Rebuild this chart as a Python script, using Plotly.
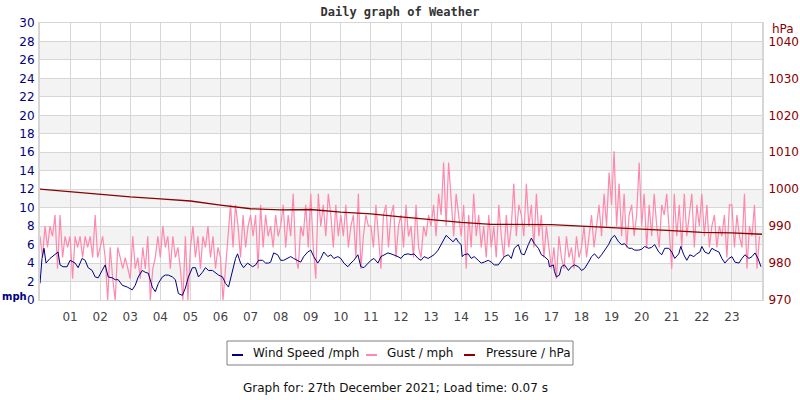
import plotly.graph_objects as go

# wind speed samples: minute of day -> mph
wind_min = [0, 4, 8, 12, 20, 30, 36, 40, 46, 54,
            60, 70, 76, 84, 90, 96, 104, 110, 116, 124,
            130, 136, 144, 150, 156, 164, 174, 184, 190, 196,
            204, 210, 216, 224, 230, 236, 244, 250, 256, 264,
            270, 276, 284, 290, 296, 304, 310, 316, 324, 330,
            336, 344, 350, 356, 364, 370, 376, 384, 390, 394,
            400, 406, 414, 424, 430, 436, 444, 450, 456, 460,
            466, 474, 480, 486, 494, 500, 506, 514, 520, 526,
            534, 540, 546, 554, 560, 566, 574, 580, 586, 594,
            600, 606, 614, 620, 626, 634, 640, 646, 654, 660,
            666, 674, 680, 686, 694, 700, 706, 714, 720, 726,
            734, 740, 746, 754, 760, 766, 774, 780, 786, 794,
            800, 806, 810, 816, 824, 830, 834, 840, 842, 846,
            854, 860, 866, 874, 880, 886, 894, 900, 906, 914,
            920, 926, 934, 940, 946, 954, 960, 966, 974, 980,
            986, 994, 1000, 1006, 1014, 1016, 1024, 1026, 1030, 1036,
            1040, 1046, 1054, 1060, 1066, 1074, 1080, 1086, 1094, 1100,
            1106, 1114, 1120, 1126, 1134, 1140, 1146, 1154, 1160, 1166,
            1174, 1180, 1186, 1194, 1200, 1206, 1214, 1220, 1226, 1234,
            1240, 1246, 1254, 1260, 1266, 1274, 1278, 1284, 1290, 1296,
            1304, 1310, 1316, 1320, 1326, 1334, 1340, 1346, 1354, 1360,
            1366, 1374, 1380, 1386, 1394, 1400, 1406, 1414, 1420, 1426,
            1432, 1438]
wind_mph = [1.8, 4.5, 5.6, 4.0, 4.5, 4.9, 5.2, 3.8, 3.6, 3.6,
            4.3, 4.0, 3.5, 4.5, 4.3, 3.5, 3.2, 2.5, 2.4, 3.2,
            3.8, 2.5, 2.4, 2.2, 2.2, 1.6, 1.4, 1.1, 1.6, 2.5,
            3.2, 3.0, 2.9, 1.4, 0.9, 1.8, 2.5, 2.7, 2.7, 2.5,
            2.2, 0.7, 0.5, 1.3, 2.5, 3.5, 3.5, 2.5, 3.0, 3.5,
            3.2, 3.2, 2.9, 2.7, 2.5, 1.8, 1.4, 3.2, 4.5, 5.0,
            4.0, 3.5, 4.0, 3.6, 3.8, 4.3, 4.3, 4.0, 4.0, 4.1,
            5.1, 4.9, 4.3, 4.3, 4.5, 4.7, 4.5, 4.3, 4.1, 4.7,
            5.2, 5.4, 4.7, 4.0, 4.5, 5.2, 4.7, 4.9, 4.5, 4.7,
            4.5, 4.0, 3.6, 4.0, 4.3, 4.9, 3.6, 3.5, 4.0, 4.3,
            4.5, 4.0, 4.7, 4.9, 5.1, 5.0, 4.9, 4.7, 4.5, 4.9,
            5.0, 4.9, 5.0, 4.5, 4.3, 4.7, 4.5, 4.7, 4.9, 5.4,
            6.0, 6.5, 7.0, 6.7, 6.3, 6.7, 6.3, 6.0, 4.7, 4.9,
            5.0, 4.5, 4.7, 4.3, 4.0, 4.1, 4.3, 4.1, 3.8, 3.8,
            4.3, 4.7, 4.9, 4.5, 5.6, 6.0, 5.0, 4.9, 6.0, 6.7,
            6.1, 5.6, 4.9, 4.7, 4.3, 3.6, 3.8, 3.1, 2.5, 2.7,
            3.6, 3.8, 3.2, 3.6, 3.8, 3.6, 3.2, 3.4, 4.1, 4.7,
            5.0, 4.5, 4.9, 5.4, 6.0, 6.7, 7.0, 6.3, 6.0, 6.1,
            5.6, 5.6, 5.4, 5.4, 5.5, 5.8, 5.6, 5.7, 6.0, 5.2,
            4.9, 5.6, 5.6, 5.2, 4.5, 5.0, 5.8, 4.9, 4.3, 4.9,
            4.7, 5.0, 5.2, 5.8, 5.2, 5.0, 5.6, 5.4, 5.2, 4.5,
            4.0, 4.5, 4.7, 4.1, 4.0, 4.5, 4.9, 4.5, 4.7, 5.1,
            4.5, 3.6]

# gusts, one value every 5 minutes, one row per hour
gust_mph = [
    6.9, 4.6, 8.0, 5.7, 8.0, 6.9, 9.2, 3.4, 9.2, 4.6, 6.9, 5.7,
    6.9, 2.3, 6.9, 5.7, 6.9, 4.6, 6.9, 5.7, 6.9, 4.6, 9.2, 4.6,
    5.7, 6.9, 4.6, 0.0, 5.7, 2.3, 0.0, 5.7, 4.6, 3.4, 4.6, 3.4,
    2.3, 6.9, 3.4, 4.6, 2.3, 5.7, 3.4, 6.9, 0.0, 3.4, 4.6, 6.9,
    4.6, 8.0, 5.7, 6.9, 3.4, 6.9, 4.6, 5.7, 3.4, 0.0, 6.9, 0.0,
    5.7, 8.0, 4.6, 6.9, 3.4, 6.9, 5.7, 8.0, 4.6, 6.9, 3.4, 5.7,
    4.6, 0.0, 3.4, 6.9, 10.3, 5.7, 10.3, 8.0, 4.6, 9.2, 5.7, 8.0,
    9.2, 6.9, 9.2, 3.4, 10.3, 5.7, 9.2, 6.9, 8.0, 5.7, 9.2, 6.9,
    8.0, 10.3, 5.7, 9.2, 6.9, 11.5, 4.6, 3.4, 8.0, 6.9, 10.3, 5.7,
    11.5, 5.7, 2.3, 11.5, 8.0, 10.3, 6.9, 11.5, 9.2, 5.7, 10.3, 6.9,
    9.2, 6.9, 10.3, 5.7, 8.0, 9.2, 4.6, 11.5, 3.4, 6.9, 9.2, 8.0,
    8.0, 5.7, 10.3, 6.9, 3.4, 9.2, 10.3, 5.7, 9.2, 10.3, 4.6, 8.0,
    9.2, 5.7, 10.3, 6.9, 8.0, 4.6, 10.3, 5.7, 4.6, 8.0, 6.9, 9.2,
    8.0, 10.3, 6.9, 11.5, 9.2, 14.9, 8.0, 14.9, 10.3, 6.9, 11.5, 9.2,
    6.9, 10.3, 3.4, 9.2, 5.7, 11.5, 6.9, 9.2, 5.7, 8.0, 4.6, 9.2,
    5.7, 8.0, 4.6, 10.3, 6.9, 4.6, 9.2, 5.7, 8.0, 12.6, 6.9, 10.3,
    9.2, 6.9, 12.6, 8.0, 10.3, 5.7, 11.5, 6.9, 9.2, 4.6, 8.0, 5.7,
    3.4, 5.7, 2.3, 6.9, 4.6, 3.4, 6.9, 4.6, 5.7, 3.4, 6.9, 4.6,
    5.7, 8.0, 4.6, 6.9, 9.2, 5.7, 8.0, 10.3, 6.9, 11.5, 8.0, 13.8,
    10.3, 16.1, 8.0, 12.6, 6.9, 11.5, 5.7, 9.2, 10.3, 6.9, 9.2, 14.9,
    8.0, 11.5, 5.7, 10.3, 6.9, 11.5, 8.0, 5.7, 10.3, 9.2, 11.5, 6.9,
    3.4, 11.5, 6.9, 10.3, 5.7, 11.5, 6.9, 9.2, 11.5, 5.7, 10.3, 8.0,
    11.5, 6.9, 10.3, 5.7, 8.0, 9.2, 5.7, 8.0, 6.9, 9.2, 4.6, 10.3,
    10.3, 5.7, 9.2, 6.9, 5.7, 11.5, 3.4, 8.0, 6.9, 10.3, 3.4, 6.9,
]
gust_min = list(range(0, 1440, 5))

# pressure on the hour, hPa
pressure_hpa = [1000.0, 999.3, 998.6, 997.9, 997.4, 996.8, 995.7, 994.7,
                994.4, 994.5, 993.8, 993.3, 992.5, 991.7, 991.0, 990.5,
                990.4, 990.4, 990.0, 989.7, 989.2, 988.8, 988.3, 988.2, 987.8]
pressure_min = [h * 60 for h in range(25)]

hour_labels = ["01", "02", "03", "04", "05", "06", "07", "08", "09", "10", "11", "12",
               "13", "14", "15", "16", "17", "18", "19", "20", "21", "22", "23"]
series_names = ["Wind Speed /mph", "Gust / mph", "Pressure / hPa"]

assert len(wind_min) == len(wind_mph)
assert len(gust_min) == len(gust_mph)

NAVY = "#000080"
DARKRED = "#8b0000"
PINK = "#ff88ac"
GRID = "#d6d6d6"
FONT = "DejaVu Sans"
series_colors = [NAVY, PINK, DARKRED]

# plot area in pixels: x 40..762, y 23..300
L, R, T, B = 40, 762, 23, 300


def px(x, y):
    return (x - L) / (R - L), (B - y) / (B - T)


fig = go.Figure()

fig.add_trace(go.Scatter(x=[m / 60 for m in gust_min], y=gust_mph, mode="lines",
                         name=series_names[1], line=dict(color=PINK, width=1.2)))
fig.add_trace(go.Scatter(x=[m / 60 for m in wind_min], y=wind_mph, mode="lines",
                         name=series_names[0], line=dict(color=NAVY, width=1)))
fig.add_trace(go.Scatter(x=[m / 60 for m in pressure_min], y=pressure_hpa, mode="lines",
                         name=series_names[2], line=dict(color=DARKRED, width=1.3),
                         yaxis="y2"))

# alternating grey bands
for b in range(2, 30, 4):
    fig.add_shape(type="rect", xref="paper", yref="y", x0=0, x1=1, y0=b, y1=b + 2,
                  fillcolor="#f3f3f3", line_width=0, layer="below")

# hand-made legend box (short line samples like the original)
bx0, by0 = px(227, 341)
bx1, by1 = px(573, 365)
fig.add_shape(type="rect", xref="paper", yref="paper", x0=bx0, x1=bx1, y0=by0, y1=by1,
              line=dict(color="#808080", width=1), fillcolor="white")
for name, col, sx, tx in zip(series_names, series_colors, [232, 366, 464], [251, 385, 484]):
    lx0, ly = px(sx, 355)
    lx1, _ = px(sx + 11, 355)
    fig.add_shape(type="line", xref="paper", yref="paper", x0=lx0, x1=lx1, y0=ly, y1=ly,
                  line=dict(color=col, width=2))
    ax, ay = px(tx, 353)
    fig.add_annotation(text=name, xref="paper", yref="paper", x=ax, y=ay,
                       xanchor="left", yanchor="middle", showarrow=False,
                       font=dict(family=FONT, size=12, color="#111"))

fig.update_layout(
    width=800, height=400,
    margin=dict(l=L, r=800 - R, t=T, b=400 - B),
    paper_bgcolor="white", plot_bgcolor="white",
    font=dict(family=FONT, size=12, color="#444"),
    title=dict(text="<b>Daily graph of Weather</b>", x=0.5, xanchor="center",
               y=0.97, yanchor="middle",
               font=dict(family="DejaVu Sans Mono", size=12, color="#333")),
    xaxis=dict(range=[0, 24], tickvals=list(range(1, 24)), ticktext=hour_labels,
               showgrid=True, gridcolor=GRID, gridwidth=1, zeroline=False,
               showline=True, linecolor=GRID, mirror=True, automargin=False,
               ticks="outside", ticklen=6, tickcolor="rgba(0,0,0,0)",
               tickfont=dict(color="#444", size=12)),
    yaxis=dict(range=[0, 30], dtick=2, showgrid=True, gridcolor=GRID, zeroline=False,
               showline=True, linecolor=GRID, linewidth=2, mirror=True, automargin=False,
               tickfont=dict(color=NAVY, size=12), ticks="outside", ticklen=1,
               tickcolor="rgba(0,0,0,0)"),
    yaxis2=dict(range=[970, 1045], tickvals=[970, 980, 990, 1000, 1010, 1020, 1030, 1040],
                overlaying="y", side="right", showgrid=False, zeroline=False,
                automargin=False,
                tickfont=dict(color=DARKRED, size=12), ticks="outside", ticklen=3,
                tickcolor="rgba(0,0,0,0)"),
    showlegend=False,
)

mx, my = px(0, 296)
fig.add_annotation(text="<b>mph</b>", xref="paper", yref="paper", x=mx, y=my,
                   xanchor="left", yanchor="middle",
                   showarrow=False, font=dict(color=NAVY, size=10))
hx, hy = px(783, 29)
fig.add_annotation(text="hPa", xref="paper", yref="paper", x=hx, y=hy,
                   xanchor="center", yanchor="middle",
                   showarrow=False, font=dict(color=DARKRED, size=12))
cx, cy = px(395, 388)
fig.add_annotation(text="Graph for: 27th December 2021; Load time: 0.07 s",
                   xref="paper", yref="paper", x=cx, y=cy, xanchor="center",
                   yanchor="middle", showarrow=False,
                   font=dict(color="#111", size=12))

# page body has a default margin; drop it so the figure sits at the window corner
fig.write_html("out.html", config={"displayModeBar": False},
               post_script="document.body.style.margin='0';")
